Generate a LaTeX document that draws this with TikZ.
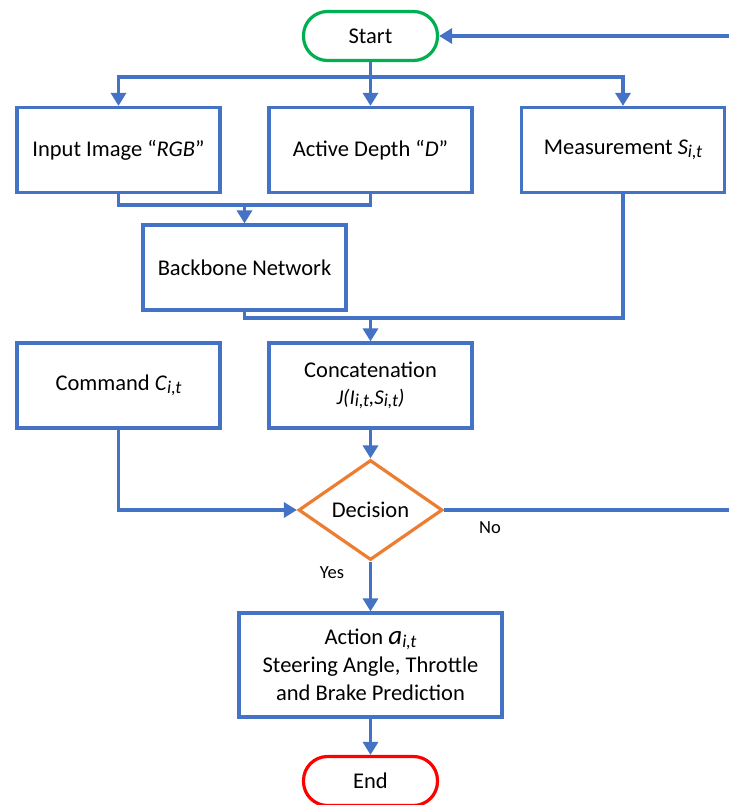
\documentclass[tikz,border=0pt]{standalone}
\usepackage{fontspec}
\setmainfont{Carlito}
\usetikzlibrary{shapes.geometric,arrows.meta}
\definecolor{lblue}{HTML}{4472C4}
\definecolor{dorange}{HTML}{ED7D31}
\definecolor{tgreen}{HTML}{00B050}
\definecolor{tred}{HTML}{FF0000}
\newcommand{\lowsub}[1]{\raisebox{-2.5pt}{\fontsize{18}{18}\selectfont\itshape #1}}
\begin{document}
\begin{tikzpicture}[x=1pt,y=-1pt,
  txt/.style={font=\fontsize{22.5}{27}\selectfont,text=black},
  box/.style={txt,draw=lblue,line width=3.2pt,minimum width=203pt,minimum height=85pt,inner sep=0pt,align=center},
  term/.style={txt,rounded corners=24pt,line width=3.2pt,minimum width=134pt,minimum height=49pt,inner sep=0pt},
  conn/.style={draw=lblue,line width=3.2pt},
  arr/.style={conn,-{Triangle[width=15pt,length=13pt]}},
  lbl/.style={font=\fontsize{18.5}{20}\selectfont,text=black}]
\useasboundingbox (0,0) rectangle (728,805);
\node[term,draw=tgreen] (start) at (370.5,36) {Start};
\node[box] (rgb) at (118.5,150) {Input Image “\textit{RGB}”};
\node[box] (dep) at (370.5,150) {Active Depth “\textit{D}”};
\node[box] (meas) at (623,150) {Measurement \textit{S}\lowsub{i,t}};
\node[box] (bb) at (244.5,267.5) {Backbone Network};
\node[box] (cmd) at (118.5,385.5) {Command \textit{C}\lowsub{i,t}};
\node[box] (cat) at (370.5,385.5) {Concatenation\\[0pt] {\fontsize{21}{24}\selectfont\itshape J(I\lowsub{i,t},S\lowsub{i,t})}};
\node[txt,diamond,draw=dorange,line width=3.2pt,minimum width=144pt,minimum height=100pt,inner sep=0pt] (dec) at (370.5,510) {Decision};
\node[box,minimum width=263pt,minimum height=104pt] (act) at (370.5,665) {Action {\fontsize{27}{27}\selectfont\textit{a}}\lowsub{i,t}\\[1pt]Steering Angle, Throttle\\[1pt]and Brake Prediction};
\node[term,draw=tred] (end) at (370.5,781) {End};
\node[lbl] (no) at (490,528) {No};
\node[lbl] (yes) at (332,573) {Yes};
\coordinate (j1) at (244.5,205);
\coordinate (j2) at (370.5,318);
\coordinate (rt) at (745,510);
\draw[arr] (start) -- (dep);
\draw[arr] (start.south) -- ++(0,15) -| (rgb.north);
\draw[arr] (start.south) -- ++(0,15) -| (meas.north);
\draw[conn] (rgb.south) |- (j1);
\draw[conn] (dep.south) |- (j1);
\draw[arr] (j1) -- (bb.north);
\draw[conn] (bb.south) |- (j2);
\draw[conn] (meas.south) |- (j2);
\draw[arr] (j2) -- (cat.north);
\draw[arr] (cat) -- (dec.north);
\draw[arr] (cmd.south) |- (dec.west);
\draw[arr] (dec.east) -- (rt) |- (start.east);
\draw[arr] (dec.south) -- (act.north);
\draw[arr] (act) -- (end);
\end{tikzpicture}
\end{document}
